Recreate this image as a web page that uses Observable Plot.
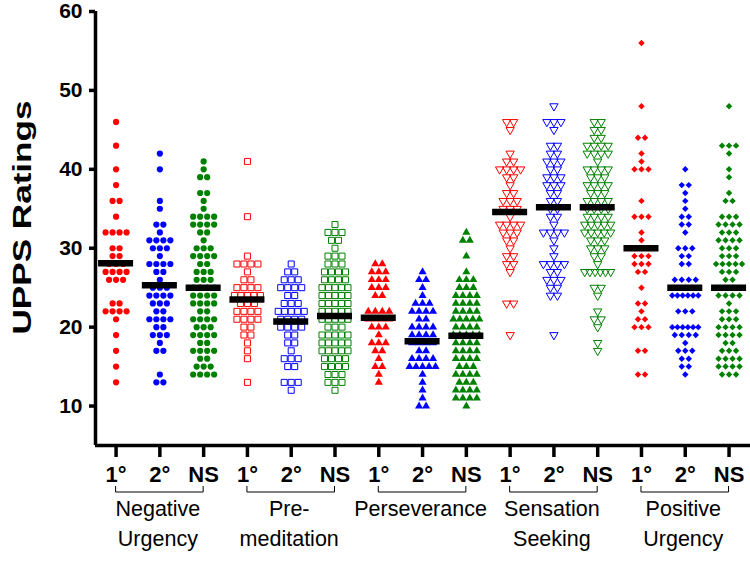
<!DOCTYPE html>
<html><head><meta charset="utf-8">
<script src="https://cdn.jsdelivr.net/npm/d3@7"></script>
<script src="https://cdn.jsdelivr.net/npm/@observablehq/plot@0.6"></script>
<style>body{margin:0;background:#fff}</style>
</head><body><div id="chart"></div>
<script>
const categories = ["Negative\nUrgency", "Pre-\nmeditation", "Perseverance", "Sensation\nSeeking", "Positive\nUrgency"];
const groups = ["1°", "2°", "NS"];
const groupColors = ["#ff0000", "#0000ff", "#008000"];
const yTicks = [10, 20, 30, 40, 50, 60];
const yLabel = "UPPS Ratings";
// medians (black bars), in group order
const medians = [28.1, 25.3, 25.0, 23.5, 20.7, 21.4, 21.2, 18.2, 18.9, 34.6, 35.2, 35.2, 30.0, 25.0, 25.0];
// [rating, number of subjects] per group
const negUrg1 = [[46,1],[43,1],[40,1],[38,1],[36,2],[34,1],[32,4],[30,2],[29,2],[28,3],[27,4],[26,3],[23,2],[22,4],[21,1],[19,1],[17,1],[15,1],[13,1]];
const negUrg2 = [[42,1],[40,1],[36,1],[35,1],[33,2],[32,1],[31,4],[30,3],[29,1],[28,4],[27,2],[26,1],[25,3],[24,4],[23,3],[22,2],[21,4],[20,2],[19,3],[18,1],[17,2],[14,1],[13,2]];
const negUrgNS = [[41,1],[40,1],[39,2],[37,2],[36,1],[35,1],[34,4],[33,4],[32,2],[31,1],[30,3],[29,4],[28,2],[27,3],[26,3],[25,4],[24,4],[23,4],[22,2],[21,4],[20,3],[19,4],[18,2],[17,4],[16,2],[15,3],[14,4]];
const premed1 = [[41,1],[34,1],[29,1],[28,4],[27,1],[26,2],[25,4],[24,5],[23,3],[22,4],[21,4],[20,2],[19,2],[18,1],[17,1],[16,1],[13,1]];
const premed2 = [[28,1],[27,2],[26,3],[25,4],[24,2],[23,3],[22,5],[21,4],[20,4],[19,2],[18,2],[17,1],[16,3],[15,2],[13,3],[12,1]];
const premedNS = [[33,1],[32,3],[31,2],[30,1],[29,3],[28,3],[27,4],[26,4],[25,5],[24,5],[23,5],[22,5],[21,5],[20,3],[19,5],[18,5],[17,5],[16,4],[15,4],[14,3],[13,3],[12,1]];
const persev1 = [[28,2],[27,3],[26,3],[25,3],[24,2],[22,4],[21,4],[20,3],[19,1],[18,3],[17,2],[16,1],[15,2],[14,1],[13,1]];
const persev2 = [[27,1],[26,2],[25,1],[24,1],[23,3],[22,4],[21,2],[20,4],[19,4],[18,4],[17,2],[16,4],[15,5],[14,1],[13,1],[12,1],[11,1],[10,2]];
const persevNS = [[32,1],[31,2],[29,1],[27,1],[26,3],[25,3],[24,4],[23,4],[22,4],[21,5],[20,4],[19,5],[18,4],[17,4],[16,4],[15,3],[14,4],[13,3],[12,4],[11,4],[10,1]];
const sensSeek1 = [[46,2],[45,1],[42,1],[41,2],[40,4],[39,2],[38,1],[37,2],[36,3],[35,3],[34,1],[33,4],[32,3],[31,2],[30,1],[29,2],[28,2],[27,1],[23,2],[19,1]];
const sensSeek2 = [[48,1],[46,3],[45,1],[43,2],[42,2],[41,3],[40,2],[39,3],[38,3],[37,2],[36,2],[35,2],[34,2],[33,1],[32,4],[31,1],[30,1],[29,1],[28,4],[27,2],[26,3],[25,2],[24,2],[19,1]];
const sensSeekNS = [[46,2],[45,2],[44,2],[43,4],[42,4],[41,1],[40,4],[39,3],[38,4],[37,3],[36,4],[35,4],[34,4],[33,5],[32,5],[31,3],[30,3],[29,2],[28,1],[27,6],[25,2],[24,1],[22,1],[21,2],[20,1],[18,1],[17,1]];
const posUrg1 = [[56,1],[48,1],[44,2],[42,1],[41,1],[40,3],[36,1],[34,3],[32,1],[31,1],[30,3],[29,3],[28,3],[27,2],[25,1],[23,2],[22,1],[21,2],[20,3],[17,2],[14,2]];
const posUrg2 = [[40,1],[38,2],[37,1],[36,1],[35,1],[34,2],[33,2],[32,1],[30,3],[29,2],[28,2],[26,4],[25,3],[24,6],[22,3],[20,6],[19,4],[18,1],[17,3],[16,2],[15,2],[14,1]];
const posUrgNS = [[48,1],[43,3],[42,1],[40,1],[39,1],[37,1],[36,2],[34,3],[33,4],[32,3],[31,4],[30,3],[29,3],[28,5],[27,3],[26,2],[25,4],[24,4],[23,1],[22,3],[21,3],[20,4],[19,4],[18,2],[17,3],[16,4],[15,4],[14,3]];

const series = [negUrg1, negUrg2, negUrgNS, premed1, premed2, premedNS, persev1, persev2, persevNS,
                sensSeek1, sensSeek2, sensSeekNS, posUrg1, posUrg2, posUrgNS];

// layout constants
const W = 750, H = 561, mL = 95, mR = 0, mT = 11, mB = 116;
const xDom = [-0.47, 14.49];
const pxPerUnit = (W - mL - mR) / (xDom[1] - xDom[0]);

const triangleDown = {
  draw(ctx, size) {
    const y = -Math.sqrt(size / (Math.sqrt(3) * 3));
    ctx.moveTo(0, -y * 2);
    ctx.lineTo(-Math.sqrt(3) * y, y);
    ctx.lineTo(Math.sqrt(3) * y, y);
    ctx.closePath();
  }
};
const shapes = ["circle", "square", "triangle", triangleDown, "diamond2"];
const filled = [true, false, true, false, true];
const radii = [3.1, 3.4, 3.0, 3.1, 2.9];

// spread equal ratings side by side (column scatter)
const rows = [];
series.forEach((s, gi) => {
  for (const [v, n] of s) {
    const sp = n > 1 ? Math.min(7, 26 / (n - 1)) : 0;
    for (let j = 0; j < n; j++) rows.push({gi, cat: Math.floor(gi / 3), group: gi % 3, value: v, off: (j - (n - 1) / 2) * sp});
  }
});
const medianRows = medians.map((m, gi) => ({gi, m}));
const xPos = d => d.gi + d.off / pxPerUnit;

const dotMarks = categories.map((c, ci) => {
  const data = rows.filter(d => d.cat === ci);
  return filled[ci]
    ? Plot.dot(data, {x: xPos, y: "value", r: radii[ci], symbol: shapes[ci], fill: "group", stroke: null})
    : Plot.dot(data, {x: xPos, y: "value", r: radii[ci], symbol: shapes[ci], stroke: "group", fill: "none", strokeWidth: 1});
});

const chart = Plot.plot({
  width: W, height: H,
  marginLeft: mL, marginRight: mR, marginTop: mT, marginBottom: mB,
  style: {fontFamily: "'Liberation Sans', Arial, Helvetica, sans-serif", background: "#fff"},
  x: {domain: xDom, axis: null},
  y: {domain: [5, 60], axis: null},
  color: {type: "ordinal", domain: [0, 1, 2], range: groupColors},
  marks: [
    ...dotMarks,
    Plot.ruleY(medianRows, {x1: d => d.gi - 0.4, x2: d => d.gi + 0.4, y: "m", stroke: "black", strokeWidth: 6.5}),
    Plot.axisY({ticks: yTicks, tickSize: 6, tickPadding: 7, strokeWidth: 3.5, fontSize: 21, fontWeight: "bold", label: null, tickFormat: d => d}),
    Plot.axisX({ticks: d3.range(15), tickFormat: i => groups[i % 3], tickSize: 12, tickPadding: 9, strokeWidth: 3.5, fontSize: 22, fontWeight: "bold", label: null}),
    Plot.ruleX([xDom[0]], {y1: 5, y2: 60, stroke: "black", strokeWidth: 3.5}),
    Plot.ruleY([5], {x1: xDom[0], x2: xDom[1], stroke: "black", strokeWidth: 3.5}),
    Plot.text(categories, {x: (d, i) => i * 3 + 1, frameAnchor: "bottom", lineAnchor: "top", dy: 49, dx: -2, fontSize: 21.5, lineHeight: 1.4, fill: "black"}),
    Plot.text([yLabel], {frameAnchor: "left", textAnchor: "middle", rotate: -90, dx: -73, dy: -11, fontSize: 26, fontWeight: "bold", fill: "black"})
  ]
});

// category brackets drawn with the plot's x scale
const xs = chart.scale("x");
const yb = 492;
const g = d3.select(chart).append("g").attr("fill", "none").attr("stroke", "black").attr("stroke-width", 1);
categories.forEach((c, i) => {
  const x1 = xs.apply(i * 3), x2 = xs.apply(i * 3 + 2);
  g.append("path").attr("d", `M${x1},${yb - 6}V${yb}H${x2}V${yb - 6}`);
});
// stretch the y label along its length to match the tall condensed lettering
d3.select(chart).selectAll("text").filter(function () { return this.textContent === yLabel; })
  .each(function () {
    const t = d3.select(this);
    t.attr("text-anchor", "middle");
    const w = this.getComputedTextLength ? this.getComputedTextLength() : 0;
    const k = w > 0 ? 240 / w : 1.35;
    t.attr("transform", (t.attr("transform") || "") + ` scale(${k},1)`);
  });

document.getElementById("chart").appendChild(chart);
</script></body></html>
